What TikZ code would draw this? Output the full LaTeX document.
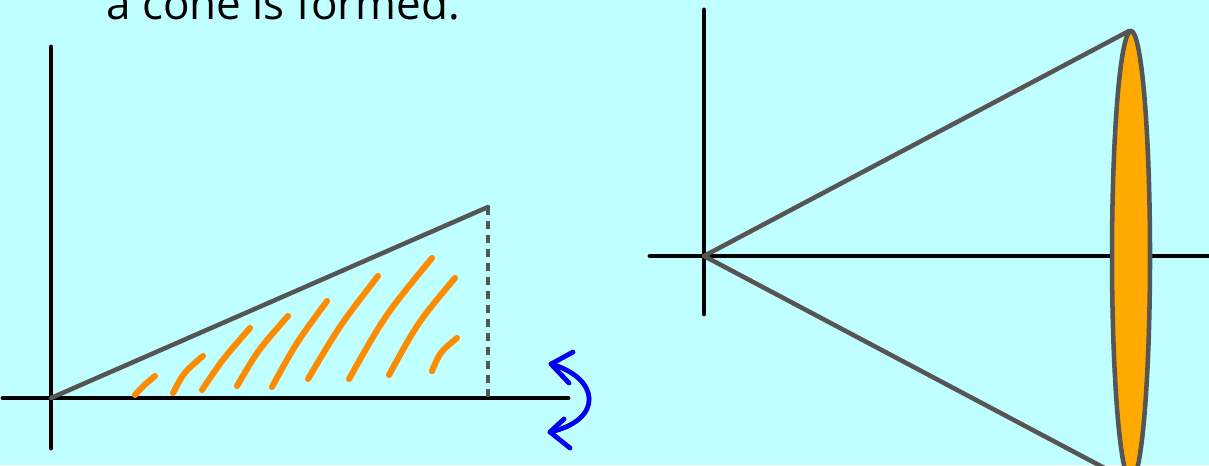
\documentclass[tikz,border=0pt]{standalone}
\usepackage{fontspec}
\setmainfont{Open Sans}
\definecolor{bg}{RGB}{192,255,255}
\definecolor{conegray}{RGB}{85,85,85}
\definecolor{hatch}{RGB}{255,140,0}
\definecolor{lid}{RGB}{255,170,0}
\definecolor{rotblue}{RGB}{0,0,240}
\tikzset{
  axis/.style={black,line width=3.6pt,line cap=round},
  edge/.style={conegray,line width=3.4pt,line cap=round},
  hatchline/.style={hatch,line width=4.6pt,line cap=round},
  rot/.style={rotblue,line width=3.6pt,line cap=round,line join=round},
}
\begin{document}
\begin{tikzpicture}[x=0.75pt,y=-0.75pt]
\useasboundingbox (0,0) rectangle (1209,465);
\clip (0,0) rectangle (1209,465);
\fill[bg] (0,0) rectangle (1209,465);
\node[anchor=base west,inner sep=0pt,font=\fontsize{33}{40}\selectfont] (title) at (106,19) {a cone is formed.};
% left diagram
\coordinate (O) at (51,398);
\coordinate (A) at (488,207);
\coordinate (Ab) at (488,398);
\coordinate (ytop) at (51,47);
\coordinate (ybot) at (51,448);
\coordinate (xl) at (3,398);
\coordinate (xr) at (568,398);
\draw[axis] (ytop) -- (ybot);
\draw[axis] (xl) -- (xr);
\draw[edge] (O) -- (A);
\draw[conegray,line width=3.4pt,dash pattern=on 6pt off 4.5pt] (A) -- (Ab);
% hatching
\draw[hatchline] (135,395) .. controls (143,386) .. (155,376);
\draw[hatchline] (173,393) .. controls (184,372) .. (203,356);
\draw[hatchline] (202,390) .. controls (222,360) .. (250,328);
\draw[hatchline] (237,386) .. controls (258,350) .. (288,316);
\draw[hatchline] (272,387) .. controls (296,343) .. (327,301);
\draw[hatchline] (308,379) .. controls (340,325) .. (378,276);
\draw[hatchline] (349,379) .. controls (385,315) .. (432,258);
\draw[hatchline] (389,375) .. controls (418,322) .. (455,278);
\draw[hatchline] (432,371) .. controls (440,352) .. (457,338);
% rotation arrow
\coordinate (t1) at (551,364);
\coordinate (t2) at (550,432);
\draw[rot] (t1) .. controls (600,378) and (604,420) .. (t2);
\draw[rot] (573,352) -- (t1) -- (569,383);
\draw[rot] (564,419) -- (t2) -- (570,448);
% right diagram
\coordinate (V) at (704,256);
\coordinate (T) at (1129,31);
\coordinate (B) at (1129,481);
\coordinate (Ec) at (1131,256);
\draw[axis] (704,10) -- (704,314);
\draw[axis] (650,256) -- (1215,256);
\draw[edge] (V) -- (T);
\draw[edge] (V) -- (B);
\draw[conegray,line width=3.4pt,fill=lid] (Ec) ellipse [x radius=19,y radius=225];
\end{tikzpicture}
\end{document}
